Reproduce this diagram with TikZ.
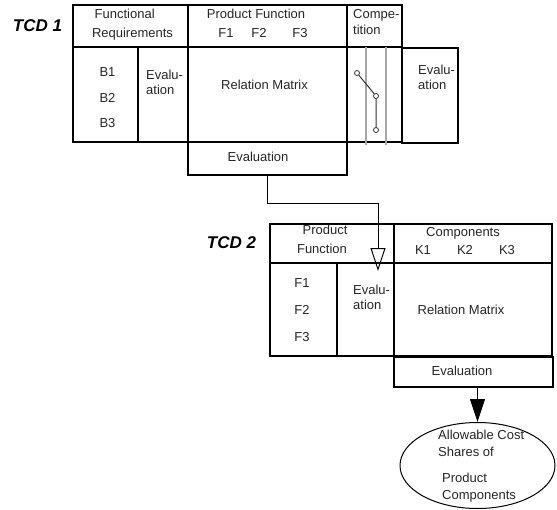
\documentclass[tikz,border=0pt]{standalone}
\usepackage{fontspec}
\setmainfont{Liberation Sans}
\usetikzlibrary{arrows.meta,shapes.geometric}

\tikzset{
  cell/.style={draw=black, line width=1.1pt, inner sep=0pt, outer sep=0pt, anchor=north west},
  lbl/.style={inner sep=0pt, text=black!85, font=\fontsize{13}{15}\selectfont, text height=9.3pt, text depth=0pt},
  lblw/.style={lbl, anchor=west},
  tcd/.style={inner sep=0pt, font=\fontsize{17}{19}\selectfont\bfseries\itshape, text height=12.2pt, text depth=0pt},
  grid/.style={draw=black!35, line width=1.1pt},
  pt/.style={circle, draw=black!80, fill=white, line width=0.8pt, minimum size=5pt, inner sep=0pt},
  flow/.style={draw=black, line width=1pt}
}

\begin{document}
\begin{tikzpicture}[x=1pt, y=-1pt]
\useasboundingbox (0,0) rectangle (557,509);

% ---------- TCD 1 ----------
\node[tcd] (t1) at (37.5,25) {TCD 1};

\node[cell, minimum width=115pt, minimum height=42pt] (fr)   at (73,5)   {};
\node[cell, minimum width=159pt, minimum height=42pt] (pf)   at (188,5)  {};
\node[cell, minimum width=55pt,  minimum height=42pt] (cmp)  at (347,5)  {};
\node[cell, minimum width=65pt,  minimum height=95pt] (bcol) at (73,47)  {};
\node[cell, minimum width=50pt,  minimum height=95pt] (ecol) at (138,47) {};
\node[cell, minimum width=159pt, minimum height=95pt] (rm)   at (188,47) {};
\node[cell, minimum width=55pt,  minimum height=95pt] (ccol) at (347,47) {};
\node[cell, minimum width=56pt,  minimum height=95pt] (rev)  at (402,48) {};
\node[cell, minimum width=159pt, minimum height=33pt] (ev1)  at (188,142) {};

% competition profile
\draw[grid] (366,47) -- (366,145);
\draw[grid] (386,47) -- (386,145);
\node[pt] (c1) at (357,73)  {};
\node[pt] (c2) at (376,96)  {};
\node[pt] (c3) at (376,130) {};
\draw[black!80, line width=1pt] (c1) -- (c2) -- (c3);

\node[lbl] (fr1) at (124.7,14)  {Functional};
\node[lbl] (fr2) at (132.5,32.5){Requirements};
\node[lbl] (pft) at (256,14)    {Product Function};
\node[lbl] (f1)  at (226,32.5)  {F1};
\node[lbl] (f2)  at (259,32.5)  {F2};
\node[lbl] (f3)  at (300,32.5)  {F3};
\node[lblw] (cp1) at (353,14)   {Compe-};
\node[lblw] (cp2) at (353,30)   {tition};
\node[lbl] (b1)  at (107.5,72)  {B1};
\node[lbl] (b2)  at (107.5,98)  {B2};
\node[lbl] (b3)  at (107.5,123) {B3};
\node[lblw] (le1) at (146,75)   {Evalu-};
\node[lblw] (le2) at (146,90)   {ation};
\node[lbl] (rmt) at (264.5,85)  {Relation Matrix};
\node[lblw] (re1) at (418,70)   {Evalu-};
\node[lblw] (re2) at (418,85)   {ation};
\node[lbl] (e1t) at (258,157)   {Evaluation};

% ---------- TCD 2 ----------
\node[tcd] (t2) at (231.5,242) {TCD 2};

\node[cell, minimum width=124pt, minimum height=39pt] (pf2)  at (270,224) {};
\node[cell, minimum width=158pt, minimum height=39pt] (cmp2) at (394,224) {};
\node[cell, minimum width=67pt,  minimum height=93pt] (fcol) at (270,263) {};
\node[cell, minimum width=57pt,  minimum height=93pt] (ecl2) at (337,263) {};
\node[cell, minimum width=158pt, minimum height=93pt] (rm2)  at (394,263) {};
\node[cell, minimum width=159pt, minimum height=30pt] (ev2)  at (394,357) {};

\node[lbl] (p2a) at (325,230)  {Product};
\node[lbl] (p2b) at (322,249)  {Function};
\node[lbl] (k0)  at (463,232)  {Components};
\node[lbl] (k1)  at (423,250)  {K1};
\node[lbl] (k2)  at (465,250)  {K2};
\node[lbl] (k3)  at (507,250)  {K3};
\node[lbl] (g1)  at (302,283)  {F1};
\node[lbl] (g2)  at (302,310)  {F2};
\node[lbl] (g3)  at (302,337)  {F3};
\node[lblw] (m1) at (353,290)  {Evalu-};
\node[lblw] (m2) at (353,305)  {ation};
\node[lbl] (rm2t) at (461,310) {Relation Matrix};
\node[lbl] (e2t) at (462,371)  {Evaluation};

% ---------- result ----------
\node[ellipse, draw=black, line width=1pt, minimum width=155pt, minimum height=86pt, inner sep=0pt] (cost) at (477.5,465.5) {};
\node[lblw] (s1) at (438,435) {Allowable Cost};
\node[lblw] (s2) at (438,452) {Shares of};
\node[lblw] (s3) at (442,478) {Product};
\node[lblw] (s4) at (442,495) {Components};

% ---------- flow ----------
\coordinate (k1a) at (267,203);
\coordinate (k1b) at (378,203);
\coordinate (in2) at (378,271);
\draw[flow, -{Triangle[open, length=23pt, width=15pt, line width=1pt]}]
  (ev1.south -| k1a) -- (k1a) -- (k1b) -- (in2);
\draw[flow, -{Triangle[length=23pt, width=15pt]}]
  (ev2.south -| cost.north) -- (cost.north);
\end{tikzpicture}
\end{document}
